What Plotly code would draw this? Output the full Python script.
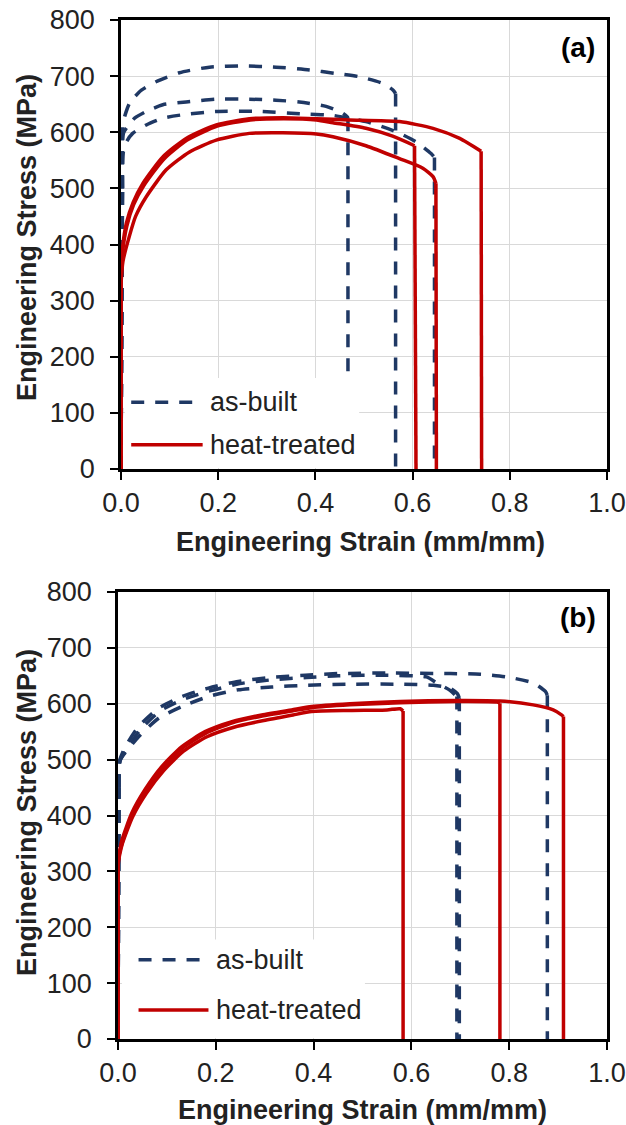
import plotly.graph_objects as go

# ---------------- data ----------------
# Panel (a)
ab_a1_x = [0, 0.003, 0.004, 0.010, 0.017, 0.028, 0.042, 0.072, 0.120, 0.182, 0.251, 0.319, 0.388, 0.440, 0.490, 0.539, 0.560, 0.565, 0.565]
ab_a1_y = [0, 500, 615, 635, 651, 663, 675, 690, 706, 716, 718, 716, 711, 705, 699, 687, 675, 669, 0]
ab_a2_x = [0, 0.003, 0.005, 0.015, 0.028, 0.052, 0.086, 0.134, 0.196, 0.264, 0.319, 0.367, 0.422, 0.456, 0.466, 0.467, 0.467]
ab_a2_y = [0, 500, 598, 612, 625, 637, 649, 654, 659, 659, 657, 654, 646, 634, 627, 625, 0]
ab_a3_x = [0, 0.003, 0.005, 0.012, 0.024, 0.052, 0.086, 0.134, 0.196, 0.285, 0.388, 0.436, 0.504, 0.566, 0.607, 0.638, 0.645, 0.645]
ab_a3_y = [0, 500, 566, 584, 598, 613, 625, 632, 637, 637, 632, 630, 619, 601, 583, 562, 555, 0]

ht_a1_x = [0, 0, 0.003, 0.011, 0.025, 0.045, 0.086, 0.134, 0.196, 0.264, 0.333, 0.402, 0.470, 0.573, 0.642, 0.697, 0.741, 0.742]
ht_a1_y = [0, 345, 392, 438, 475, 509, 556, 589, 613, 624, 626, 624, 622, 619, 607, 589, 566, 0]
ht_a2_x = [0, 0, 0.003, 0.012, 0.026, 0.047, 0.088, 0.136, 0.198, 0.266, 0.335, 0.402, 0.436, 0.504, 0.559, 0.604, 0.607]
ht_a2_y = [0, 340, 385, 433, 471, 505, 552, 586, 611, 622, 624, 622, 617, 607, 593, 576, 0]
ht_a3_x = [0, 0, 0.004, 0.017, 0.030, 0.052, 0.093, 0.141, 0.196, 0.264, 0.333, 0.402, 0.436, 0.504, 0.573, 0.621, 0.642, 0.648, 0.649]
ht_a3_y = [0, 330, 370, 414, 450, 485, 533, 565, 586, 598, 599, 597, 592, 576, 553, 536, 521, 509, 0]

# Panel (b)
ab_b1_x = [0, 0.002, 0.004, 0.015, 0.042, 0.083, 0.131, 0.185, 0.246, 0.314, 0.383, 0.450, 0.550, 0.680, 0.741, 0.795, 0.850, 0.874, 0.878, 0.878]
ab_b1_y = [0, 450, 500, 523, 559, 592, 613, 628, 640, 647, 651, 654, 655, 654, 653, 648, 637, 622, 615, 0]
ab_b2_x = [0, 0.002, 0.004, 0.017, 0.045, 0.086, 0.134, 0.188, 0.249, 0.317, 0.386, 0.450, 0.550, 0.631, 0.652, 0.679, 0.693, 0.693]
ab_b2_y = [0, 450, 497, 518, 553, 587, 608, 623, 636, 643, 647, 650, 651, 648, 637, 624, 613, 0]
ab_b3_x = [0, 0.002, 0.004, 0.020, 0.042, 0.083, 0.131, 0.185, 0.246, 0.314, 0.383, 0.480, 0.577, 0.645, 0.679, 0.694, 0.698, 0.698]
ab_b3_y = [0, 450, 499, 518, 541, 574, 595, 613, 625, 630, 633, 635, 635, 633, 628, 618, 610, 0]

ht_b1_x = [0, 0, 0.003, 0.008, 0.028, 0.055, 0.089, 0.130, 0.178, 0.233, 0.294, 0.355, 0.396, 0.474, 0.577, 0.693, 0.781, 0.849, 0.890, 0.907, 0.911, 0.911]
ht_b1_y = [0, 320, 335, 356, 404, 446, 487, 523, 550, 568, 580, 589, 595, 600, 604, 606, 605, 598, 589, 580, 577, 0]
ht_b2_x = [0, 0, 0.003, 0.009, 0.029, 0.056, 0.090, 0.131, 0.179, 0.234, 0.295, 0.356, 0.397, 0.474, 0.577, 0.693, 0.775, 0.781, 0.781]
ht_b2_y = [0, 315, 332, 352, 400, 442, 483, 520, 547, 566, 578, 587, 593, 598, 602, 604, 603, 601, 0]
ht_b3_x = [0, 0, 0.003, 0.009, 0.030, 0.058, 0.093, 0.134, 0.182, 0.237, 0.298, 0.358, 0.396, 0.474, 0.550, 0.577, 0.583, 0.583]
ht_b3_y = [0, 310, 328, 350, 398, 440, 480, 515, 541, 558, 570, 580, 586, 588, 589, 591, 587, 0]

x_ticks = [0.0, 0.2, 0.4, 0.6, 0.8, 1.0]
x_tick_labels = ["0.0", "0.2", "0.4", "0.6", "0.8", "1.0"]
y_ticks = [0, 100, 200, 300, 400, 500, 600, 700, 800]
series_names = ["as-built", "heat-treated"]
panel_labels = ["(a)", "(b)"]
x_title = "Engineering Strain (mm/mm)"
y_title = "Engineering Stress (MPa)"

# ---------------- styling ----------------
NAVY = "#1F3864"
RED = "#C00000"
FONT = "Liberation Sans, Arial, sans-serif"
FS = 27
DASH = "13px,11px"
LW = 3.5

W, H = 626, 1125
def px_x(p): return p / W
def px_y(p): return 1 - p / H

fig = go.Figure()

def add_curve(xs, ys, xa, ya, color, dash):
    # elastic rise and final drop straight, flow curve smoothed
    parts = [(xs[0:2], ys[0:2], "linear"), (xs[1:-1], ys[1:-1], "spline"), (xs[-2:], ys[-2:], "linear")]
    for px_, py_, shp in parts:
        line = dict(color=color, width=LW, shape=shp)
        if shp == "spline":
            line["smoothing"] = 0.6
        if dash:
            line["dash"] = dash
        fig.add_trace(go.Scatter(x=px_, y=py_, xaxis=xa, yaxis=ya, mode="lines", line=line,
                                 showlegend=False, hoverinfo="skip"))

panels = [
    ("x", "y", [(ab_a1_x, ab_a1_y), (ab_a2_x, ab_a2_y), (ab_a3_x, ab_a3_y)],
               [(ht_a1_x, ht_a1_y), (ht_a2_x, ht_a2_y), (ht_a3_x, ht_a3_y)]),
    ("x2", "y2", [(ab_b1_x, ab_b1_y), (ab_b2_x, ab_b2_y), (ab_b3_x, ab_b3_y)],
                 [(ht_b1_x, ht_b1_y), (ht_b2_x, ht_b2_y), (ht_b3_x, ht_b3_y)]),
]
for xa, ya, abs_, hts in panels:
    for xs, ys in abs_:
        add_curve(xs, ys, xa, ya, NAVY, DASH)
    for xs, ys in hts:
        add_curve(xs, ys, xa, ya, RED, None)

axis_common = dict(showgrid=True, gridcolor="#D9D9D9", gridwidth=1, zeroline=False,
                   showline=True, linecolor="black", linewidth=2.5, mirror=True,
                   ticks="outside", ticklen=8, tickwidth=2, tickcolor="black",
                   automargin=False, ticklabeloverflow="allow",
                   tickfont=dict(family=FONT, size=FS, color="#222"))

# plot-area geometry in window pixels (left, right, top, bottom)
geo = [(121, 607, 20, 469), (118, 607, 592, 1039)]
for i, (l, r, t, b) in enumerate(geo):
    sfx = "" if i == 0 else str(i + 1)
    fig.update_layout(**{
        "xaxis" + sfx: dict(axis_common, domain=[px_x(l), px_x(r)], range=[0, 1],
                            tickvals=x_ticks, ticktext=x_tick_labels, anchor="y" + sfx,
                            ticklabelstandoff=0),
        "yaxis" + sfx: dict(axis_common, domain=[px_y(b), px_y(t)], range=[0, 800],
                            tickvals=y_ticks, anchor="x" + sfx, ticklabelstandoff=10),
    })

# axis titles and panel labels (window pixels)
title_pos = [dict(xt=(360, 542), yt=(27, 238), lab=(578, 47)),
             dict(xt=(362, 1110), yt=(27, 813), lab=(578, 617))]
for i, tp in enumerate(title_pos):
    fig.add_annotation(x=px_x(tp["xt"][0]), y=px_y(tp["xt"][1]), xref="paper", yref="paper",
                       text="<b>%s</b>" % x_title, showarrow=False, xanchor="center", yanchor="middle",
                       font=dict(family=FONT, size=FS, color="#222"))
    fig.add_annotation(x=px_x(tp["yt"][0]), y=px_y(tp["yt"][1]), xref="paper", yref="paper",
                       text="<b>%s</b>" % y_title, showarrow=False, textangle=-90,
                       xanchor="center", yanchor="middle",
                       font=dict(family=FONT, size=FS, color="#222"))
    fig.add_annotation(x=px_x(tp["lab"][0]), y=px_y(tp["lab"][1]), xref="paper", yref="paper",
                       text="<b>%s</b>" % panel_labels[i], showarrow=False,
                       xanchor="center", yanchor="middle",
                       font=dict(family=FONT, size=FS + 1, color="black"))

# custom legends (box in data units of each panel)
legends = [
    dict(xr="x", yr="y", box=(0.008, 0.49, 2, 162), ab_y=119, ht_y=43, s0=0.021, s1=0.168, tx=0.178),
    dict(xr="x2", yr="y2", box=(0.008, 0.505, 2, 178), ab_y=142, ht_y=52, s0=0.042, s1=0.185, tx=0.196),
]
for lg in legends:
    x0, x1, y0, y1 = lg["box"]
    fig.add_shape(type="rect", xref=lg["xr"], yref=lg["yr"], x0=x0, x1=x1, y0=y0, y1=y1,
                  fillcolor="white", line=dict(width=0), layer="above")
    fig.add_shape(type="line", xref=lg["xr"], yref=lg["yr"], x0=lg["s0"], x1=lg["s1"],
                  y0=lg["ab_y"], y1=lg["ab_y"], line=dict(color=NAVY, width=LW, dash=DASH), layer="above")
    fig.add_shape(type="line", xref=lg["xr"], yref=lg["yr"], x0=lg["s0"], x1=lg["s1"],
                  y0=lg["ht_y"], y1=lg["ht_y"], line=dict(color=RED, width=LW), layer="above")
    for name, yy in zip(series_names, [lg["ab_y"], lg["ht_y"]]):
        fig.add_annotation(x=lg["tx"], y=yy, xref=lg["xr"], yref=lg["yr"], text=name,
                           showarrow=False, xanchor="left", yanchor="middle",
                           font=dict(family=FONT, size=FS, color="#222"))

fig.update_layout(width=W, height=H, margin=dict(l=0, r=0, t=0, b=0),
                  paper_bgcolor="white", plot_bgcolor="white", showlegend=False)

fig.write_html("out.html", config={"displayModeBar": False},
               post_script="document.body.style.margin='0';document.body.style.overflow='hidden';")
